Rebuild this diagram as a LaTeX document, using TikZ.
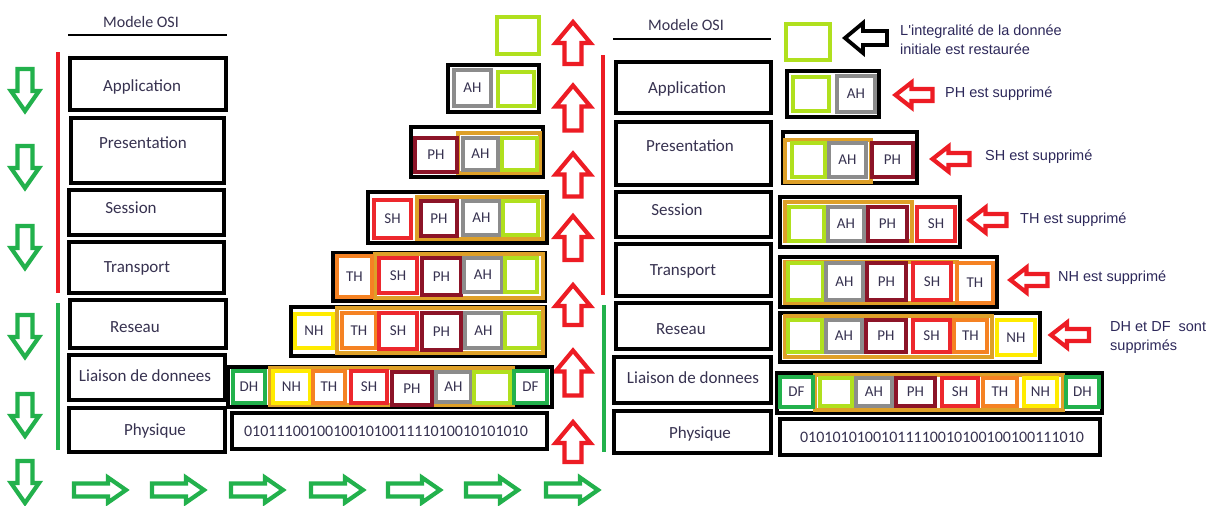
\documentclass[tikz,border=0pt]{standalone}
\usepackage{fontspec}
\setmainfont{Carlito}
\newfontfamily\arialf{Liberation Sans}
\definecolor{lime}{RGB}{176,224,30}
\definecolor{ahgray}{RGB}{140,140,140}
\definecolor{phred}{RGB}{140,20,40}
\definecolor{shred}{RGB}{237,40,45}
\definecolor{thor}{RGB}{245,130,35}
\definecolor{nhy}{RGB}{255,235,0}
\definecolor{dgreen}{RGB}{34,177,76}
\definecolor{contc}{RGB}{222,160,40}
\definecolor{arred}{RGB}{237,28,36}
\definecolor{txtc}{RGB}{55,50,80}
\definecolor{anntc}{RGB}{45,40,90}
\newcommand\mybox[7]{\node[#2, minimum width={#5-#3}, minimum height={#6-#4}] (#1) at ({(#3+#5)/2},{(#4+#6)/2}) {#7};}
\tikzset{
  layer/.style={draw=black, line width=3.8pt, inner sep=0pt},
  blk/.style={draw=black, line width=3.6pt, inner sep=0pt},
  hd/.style={draw=#1, line width=3.5pt, inner sep=0pt, text=txtc, font=\fontsize{15}{17}\selectfont},
  contbox/.style={draw=contc, line width=3.8pt, inner sep=0pt},
  lname/.style={text=txtc, font=\fontsize{17}{20}\selectfont, inner sep=0pt},
  bits/.style={text=txtc, font=\fontsize{16}{18}\selectfont, inner sep=0pt},
  ann/.style={text=anntc, font=\arialf\fontsize{14.5}{19}\selectfont, inner sep=0pt, align=left},
  pics/barrow/.style args={#1/#2/#3/#4}{code={
    \path[pic actions] ({-#1/2},{-#3/2}) -- ({#1/2-#4},{-#3/2}) -- ({#1/2-#4},{-#2/2}) -- ({#1/2},0)
      -- ({#1/2-#4},{#2/2}) -- ({#1/2-#4},{#3/2}) -- ({-#1/2},{#3/2}) -- cycle;
  }},
  garrow/.style={draw=dgreen, fill=white, line width=4.2pt, line join=miter},
  rarrow/.style={draw=arred, fill=white, line width=4.2pt, line join=miter},
  karrow/.style={draw=black, fill=white, line width=3.8pt, line join=miter},
}
\begin{document}
\begin{tikzpicture}[x=1pt,y=-1pt]
\useasboundingbox[fill=white] (0,0) rectangle (1211,506);

% ---------- titles ----------
\node[lname, font=\fontsize{16}{18}\selectfont] (titleL) at (141,22) {Modele OSI};
\draw[line width=2.8pt] (68,35) -- (227,35);
\node[lname, font=\fontsize{16}{18}\selectfont] (titleR) at (686,25) {Modele OSI};
\draw[line width=2.8pt] (613,39) -- (771,39);

% ---------- vertical lines ----------
\draw[arred, line width=4.5pt] (58,52) -- (58,293);
\draw[dgreen, line width=4.5pt] (58,303) -- (58,450);
\draw[arred, line width=4.5pt] (603,55) -- (603,295);
\draw[dgreen, line width=4.5pt] (604,305) -- (604,452);

% ---------- left layers ----------
\mybox{lApp}{layer}{70}{58}{226}{110}{}
\mybox{lPres}{layer}{71}{118}{224}{183}{}
\mybox{lSes}{layer}{69}{190}{224}{235}{}
\mybox{lTra}{layer}{69}{242}{224}{293}{}
\mybox{lRes}{layer}{70}{300}{226}{348}{}
\mybox{lLia}{layer}{69}{355}{225}{400}{}
\mybox{lPhy}{layer}{69}{408}{225}{452}{}
\node[lname] (tlApp) at (142,87) {Application};
\node[lname] (tlPres) at (143,143) {Presentation};
\node[lname] (tlSes) at (131,208) {Session};
\node[lname] (tlTra) at (137,268) {Transport};
\node[lname] (tlRes) at (135,327) {Reseau};
\node[lname] (tlLia) at (145,376) {Liaison de donnees};
\node[lname] (tlPhy) at (155,431) {Physique};

% ---------- right layers ----------
\mybox{rApp}{layer}{616}{62}{771}{113}{}
\mybox{rPres}{layer}{616}{122}{771}{185}{}
\mybox{rSes}{layer}{616}{192}{771}{237}{}
\mybox{rTra}{layer}{616}{244}{771}{296}{}
\mybox{rRes}{layer}{616}{303}{771}{349}{}
\mybox{rLia}{layer}{614}{357}{771}{403}{}
\mybox{rPhy}{layer}{614}{411}{771}{453}{}
\node[lname] (trApp) at (687,89) {Application};
\node[lname] (trPres) at (690,146) {Presentation};
\node[lname] (trSes) at (677,210) {Session};
\node[lname] (trTra) at (683,271) {Transport};
\node[lname] (trRes) at (681,329) {Reseau};
\node[lname] (trLia) at (693,378) {Liaison de donnees};
\node[lname] (trPhy) at (700,434) {Physique};

% ---------- green down arrows ----------
\foreach \yy [count=\i] in {90,167,247,336,415,482}
  \pic[garrow, rotate=-90] (gd\i) at (25,\yy) {barrow=42/28/15/20};
% ---------- green right arrows ----------
\foreach \xx [count=\i] in {100,178,257,337,414,492,572}
  \pic[garrow] (gr\i) at (\xx,490) {barrow=52/25/13/18};
% ---------- red up arrows ----------
\foreach \yy/\ll [count=\i] in {43/42,108/45,175/43,238/44,305/40,373/45,442/40}
  \pic[rarrow, rotate=90] (ru\i) at (573,\yy) {barrow=\ll/35/17/21};

% ---------- middle stack (encapsulation) ----------
\mybox{m0}{hd=lime}{497}{17}{539}{54}{}

\mybox{m1b}{blk}{448}{65}{539}{112}{}
\mybox{m1a}{hd=ahgray}{454}{70}{491}{106}{AH}
\mybox{m1d}{hd=lime}{498}{72}{534}{106}{}

\mybox{m2b}{blk}{411}{127}{543}{177}{}
\mybox{m2c}{contbox}{458}{133}{540}{173}{}
\mybox{m2p}{hd=phred}{415}{138}{457}{172}{PH}
\mybox{m2a}{hd=ahgray}{463}{138}{498}{170}{AH}
\mybox{m2d}{hd=lime}{502}{138}{537}{170}{}

\mybox{m3b}{blk}{368}{192}{547}{243}{}
\mybox{m3c}{contbox}{417}{197}{543}{239}{}
\mybox{m3s}{hd=shred}{374}{200}{411}{238}{SH}
\mybox{m3p}{hd=phred}{421}{201}{457}{236}{PH}
\mybox{m3a}{hd=ahgray}{463}{201}{500}{235}{AH}
\mybox{m3d}{hd=lime}{503}{201}{538}{235}{}

\mybox{m4b}{blk}{333}{253}{545}{301}{}
\mybox{m4c}{contbox}{375}{254}{543}{298}{}
\mybox{m4t}{hd=thor}{337}{256}{372}{297}{TH}
\mybox{m4s}{hd=shred}{379}{258}{417}{293}{SH}
\mybox{m4p}{hd=phred}{422}{258}{461}{295}{PH}
\mybox{m4a}{hd=ahgray}{464}{258}{502}{292}{AH}
\mybox{m4d}{hd=lime}{505}{258}{537}{292}{}

\mybox{m5b}{blk}{291}{307}{545}{356}{}
\mybox{m5c}{contbox}{337}{308}{543}{353}{}
\mybox{m5n}{hd=nhy}{295}{314}{333}{348}{NH}
\mybox{m5t}{hd=thor}{342}{313}{376}{348}{TH}
\mybox{m5s}{hd=shred}{379}{313}{417}{349}{SH}
\mybox{m5p}{hd=phred}{422}{313}{461}{350}{PH}
\mybox{m5a}{hd=ahgray}{465}{313}{502}{348}{AH}
\mybox{m5d}{hd=lime}{505}{313}{539}{348}{}

\mybox{m6b}{blk}{228}{367}{552}{407}{}
\mybox{m6c}{contbox}{270}{368}{513}{405}{}
\mybox{m6h}{hd=dgreen}{233}{371}{265}{403}{DH}
\mybox{m6n}{hd=nhy}{273}{371}{310}{403}{NH}
\mybox{m6t}{hd=thor}{313}{371}{345}{403}{TH}
\mybox{m6s}{hd=shred}{351}{371}{387}{403}{SH}
\mybox{m6p}{hd=phred}{392}{372}{432}{405}{PH}
\mybox{m6a}{hd=ahgray}{436}{372}{471}{402}{AH}
\mybox{m6d}{hd=lime}{474}{372}{510}{403}{}
\mybox{m6f}{hd=dgreen}{514}{371}{547}{403}{DF}

\mybox{m7b}{blk}{232}{413}{547}{449}{}
\node[bits] (m7t) at (386,431) {01011100100100101001111010010101010};

% ---------- right stack (decapsulation) ----------
\mybox{r0}{hd=lime}{786}{24}{830}{60}{}
\pic[karrow, rotate=180] (ka) at (866,38) {barrow=42/30/14/18};
\node[ann, anchor=north west] (a0) at (900,25) {L'integralité de la donnée\\initiale est restaurée};

\mybox{r1b}{blk}{787}{71}{879}{117}{}
\mybox{r1d}{hd=lime}{793}{77}{829}{111}{}
\mybox{r1a}{hd=ahgray}{837}{76}{875}{112}{AH}
\pic[rarrow, rotate=180] (ra1) at (914,95) {barrow=37/25/12/16};
\node[ann, anchor=west] (a1) at (945,94) {PH est supprimé};

\mybox{r2b}{blk}{783}{132}{917}{183}{}
\mybox{r2c}{contbox}{785}{140}{871}{182}{}
\mybox{r2d}{hd=lime}{792}{143}{825}{177}{}
\mybox{r2a}{hd=ahgray}{829}{143}{866}{177}{AH}
\mybox{r2p}{hd=phred}{872}{143}{913}{177}{PH}
\pic[rarrow, rotate=180] (ra2) at (951,159) {barrow=37/25/12/16};
\node[ann, anchor=west] (a2) at (985,157) {SH est supprimé};

\mybox{r3b}{blk}{780}{197}{960}{247}{}
\mybox{r3c}{contbox}{785}{202}{912}{241}{}
\mybox{r3d}{hd=lime}{789}{207}{824}{241}{}
\mybox{r3a}{hd=ahgray}{828}{207}{864}{241}{AH}
\mybox{r3p}{hd=phred}{868}{207}{907}{241}{PH}
\mybox{r3s}{hd=shred}{917}{207}{955}{241}{SH}
\pic[rarrow, rotate=180] (ra3) at (988,220) {barrow=37/25/12/16};
\node[ann, anchor=west] (a3) at (1020,220) {TH est supprimé};

\mybox{r4b}{blk}{780}{257}{997}{307}{}
\mybox{r4c}{contbox}{785}{262}{957}{303}{}
\mybox{r4d}{hd=lime}{788}{263}{823}{300}{}
\mybox{r4a}{hd=ahgray}{826}{263}{863}{300}{AH}
\mybox{r4p}{hd=phred}{867}{263}{906}{300}{PH}
\mybox{r4s}{hd=shred}{913}{263}{951}{300}{SH}
\mybox{r4t}{hd=thor}{957}{263}{993}{303}{TH}
\pic[rarrow, rotate=180] (ra4) at (1029,280) {barrow=37/25/12/16};
\node[ann, anchor=west] (a4) at (1058,278) {NH est supprimé};

\mybox{r5b}{blk}{780}{313}{1040}{362}{}
\mybox{r5c}{contbox}{785}{316}{992}{357}{}
\mybox{r5d}{hd=lime}{788}{320}{822}{352}{}
\mybox{r5a}{hd=ahgray}{826}{320}{862}{352}{AH}
\mybox{r5p}{hd=phred}{866}{320}{906}{352}{PH}
\mybox{r5s}{hd=shred}{913}{320}{950}{352}{SH}
\mybox{r5t}{hd=thor}{954}{320}{987}{352}{TH}
\mybox{r5n}{hd=nhy}{997}{320}{1035}{355}{NH}
\pic[rarrow, rotate=180] (ra5) at (1070,335) {barrow=38/25/12/16};
\node[ann, anchor=north west] (a5) at (1110,321) {DH et DF\ \ sont\\supprimés};

\mybox{r6b}{blk}{777}{373}{1102}{413}{}
\mybox{r6c}{contbox}{815}{375}{1063}{410}{}
\mybox{r6f}{hd=dgreen}{780}{377}{813}{407}{DF}
\mybox{r6d}{hd=lime}{820}{378}{852}{406}{}
\mybox{r6a}{hd=ahgray}{856}{378}{892}{406}{AH}
\mybox{r6p}{hd=phred}{896}{378}{935}{406}{PH}
\mybox{r6s}{hd=shred}{942}{378}{978}{406}{SH}
\mybox{r6t}{hd=thor}{983}{378}{1017}{406}{TH}
\mybox{r6n}{hd=nhy}{1024}{378}{1057}{406}{NH}
\mybox{r6h}{hd=dgreen}{1066}{377}{1099}{407}{DH}

\mybox{r7b}{blk}{780}{419}{1100}{455}{}
\node[bits] (r7t) at (942,437) {01010101001011110010100100100111010};
\end{tikzpicture}
\end{document}
